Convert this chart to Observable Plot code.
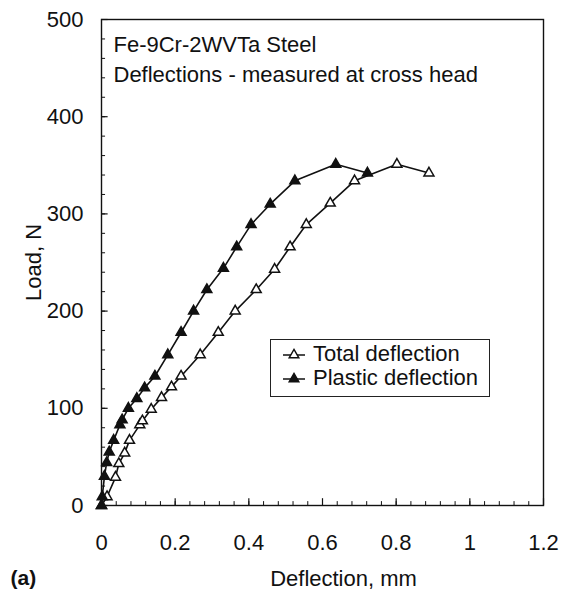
<!DOCTYPE html>
<html>
<head>
<meta charset="utf-8">
<script src="https://cdn.jsdelivr.net/npm/d3@7"></script>
<script src="https://cdn.jsdelivr.net/npm/@observablehq/plot@0.6"></script>
<style>
  body { margin: 0; background: #fff; font-family: "Liberation Sans", Arial, sans-serif; }
  #wrap { position: relative; width: 566px; height: 594px; }
  #legend { position: absolute; left: 270px; top: 339px; width: 218px; height: 56px;
            border: 1px solid #222; background: #fff; font-size: 22px; color: #111; }
  .row { position: absolute; left: 0; height: 24px; display: flex; align-items: center; }
  .row svg { margin-left: 12px; margin-right: 8px; }
</style>
</head>
<body>
<div id="wrap"></div>
<script>
// ---- data ----
const totalDeflection = [0, 0.015, 0.038, 0.047, 0.063, 0.076, 0.104, 0.111, 0.135, 0.163, 0.19, 0.216, 0.268, 0.317, 0.363, 0.42, 0.47, 0.512, 0.556, 0.621, 0.687, 0.802, 0.889];
const totalLoad       = [0, 9, 29, 43, 54, 67, 83, 87, 99, 111, 122, 133, 155, 178, 200, 222, 243, 266, 289, 311, 334, 351, 342];
const plasticDeflection = [0, 0.002, 0.008, 0.014, 0.021, 0.033, 0.05, 0.056, 0.073, 0.096, 0.117, 0.145, 0.18, 0.216, 0.25, 0.286, 0.331, 0.367, 0.406, 0.458, 0.525, 0.636, 0.722];
const plasticLoad       = [0, 9, 30, 44, 55, 67, 83, 88, 100, 110, 121, 133, 155, 178, 200, 222, 244, 266, 289, 310, 334, 351, 342];
const seriesNames = ["Total deflection", "Plastic deflection"];
const xTicks = [0, 0.2, 0.4, 0.6, 0.8, 1, 1.2];
const xTickLabels = ["0", "0.2", "0.4", "0.6", "0.8", "1", "1.2"];
const yTicks = [0, 100, 200, 300, 400, 500];
const xMinorTicks = d3.range(0, 31).map(i => +(i * 0.04).toFixed(2));
const yMinorTicks = d3.range(0, 26).map(i => i * 20);
const notes = ["Fe-9Cr-2WVTa Steel", "Deflections - measured at cross head"];
const xLabel = "Deflection, mm";
const yLabel = "Load, N";
const panelTag = "(a)";

const total = totalDeflection.map((d, i) => ({x: d, y: totalLoad[i]}));
const plastic = plasticDeflection.map((d, i) => ({x: d, y: plasticLoad[i]}));
const ink = "#111";
const fs = 22;

const chart = Plot.plot({
  width: 566, height: 594,
  marginLeft: 101, marginRight: 23, marginTop: 19, marginBottom: 89,
  style: {fontFamily: "'Liberation Sans', Arial, sans-serif", fontSize: fs + "px", color: ink, background: "#fff"},
  x: {domain: [0, 1.2]},
  y: {domain: [0, 500]},
  marks: [
    // inward tick marks
    Plot.ruleX(xMinorTicks, {x: d => d, y1: 0, y2: 4, stroke: ink, strokeWidth: 1}),
    Plot.ruleX(xTicks, {x: d => d, y1: 0, y2: 7, stroke: ink, strokeWidth: 1.2}),
    Plot.ruleY(yMinorTicks, {y: d => d, x1: 0, x2: 0.011, stroke: ink, strokeWidth: 1}),
    Plot.ruleY(yTicks, {y: d => d, x1: 0, x2: 0.018, stroke: ink, strokeWidth: 1.2}),
    Plot.axisX(xTicks, {tickSize: 0, tickPadding: 29, tickFormat: (d, i) => xTickLabels[i],
      label: null, fontSize: fs}),
    Plot.axisY(yTicks, {tickSize: 0, tickPadding: 18, tickFormat: d => String(d),
      label: yLabel, labelAnchor: "center", labelOffset: 76, labelArrow: "none", fontSize: fs}),
    Plot.frame({stroke: ink, strokeWidth: 1.4}),
    Plot.line(total, {x: "x", y: "y", stroke: ink, strokeWidth: 1.6}),
    Plot.line(plastic, {x: "x", y: "y", stroke: ink, strokeWidth: 1.6}),
    Plot.dot(total, {x: "x", y: "y", symbol: "triangle", r: 3.7, fill: "white", stroke: ink, strokeWidth: 1.5}),
    Plot.dot(plastic, {x: "x", y: "y", symbol: "triangle", r: 3.7, fill: ink, stroke: ink, strokeWidth: 1.5}),
    Plot.text([notes[0]], {frameAnchor: "top-left", dx: 12, dy: 25, text: d => d, textAnchor: "start", lineAnchor: "middle", fontSize: fs, fill: ink}),
    Plot.text([notes[1]], {frameAnchor: "top-left", dx: 12, dy: 55, text: d => d, textAnchor: "start", lineAnchor: "middle", fontSize: fs, fill: ink}),
    Plot.text([xLabel], {frameAnchor: "bottom", dx: 21, dy: 73, text: d => d, textAnchor: "middle", lineAnchor: "middle", fontSize: fs, fill: ink}),
    Plot.text([panelTag], {frameAnchor: "bottom-left", dx: -91, dy: 73, text: d => d, textAnchor: "start", lineAnchor: "middle", fontSize: 21, fontWeight: "bold", fill: ink})
  ]
});

const wrap = document.getElementById("wrap");
wrap.appendChild(chart);

// legend overlay
const legend = document.createElement("div");
legend.id = "legend";
seriesNames.forEach((name, i) => {
  const row = document.createElement("div");
  row.className = "row";
  row.style.top = (2 + i * 24) + "px";
  const filled = i === 1;
  row.innerHTML = `<svg width="22" height="14" viewBox="0 0 22 14">
      <line x1="0" y1="8" x2="22" y2="8" stroke="${ink}" stroke-width="1.5"/>
      <path d="${d3.symbol(d3.symbolTriangle, 3.6 * 3.6 * Math.PI)()}" transform="translate(11,8)"
        fill="${filled ? ink : "white"}" stroke="${ink}" stroke-width="1.4"/>
    </svg><span>${name}</span>`;
  legend.appendChild(row);
});
wrap.appendChild(legend);
</script>
</body>
</html>
